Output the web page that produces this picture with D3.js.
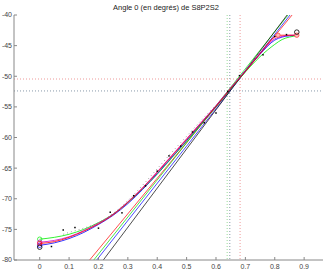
<!DOCTYPE html>
<html>
<head>
<meta charset="utf-8">
<script src="https://cdn.jsdelivr.net/npm/d3@7"></script>
<style>
body { margin: 0; background: white; }
text { font-family: "Liberation Sans", Arial, sans-serif; }
</style>
</head>
<body>
<div id="chart"></div>
<script>
var title = "Angle 0 (en degrés) de S8P2S2";
var xTicks = [0, 0.1, 0.2, 0.3, 0.4, 0.5, 0.6, 0.7, 0.8, 0.9];
var yTicks = [-40, -45, -50, -55, -60, -65, -70, -75, -80];

// fitted curves
var curveX  = [0, 0.05, 0.1, 0.15, 0.2, 0.25, 0.3, 0.35, 0.4, 0.45, 0.5, 0.55, 0.6, 0.65, 0.7, 0.75, 0.8, 0.825, 0.85, 0.875];
var redY    = [-77.3, -77.0, -76.3, -75.3, -74.1, -72.6, -70.6, -68.3, -65.7, -63.0, -60.3, -57.6, -54.9, -52.0, -49.2, -46.3, -43.6, -43.3, -43.3, -43.3];
var blueY   = [-77.6, -77.2, -76.5, -75.5, -74.2, -72.7, -70.8, -68.5, -65.9, -63.2, -60.5, -57.7, -54.9, -52.0, -49.1, -46.4, -44.1, -43.6, -43.4, -43.3];
var magY    = [-77.1, -76.8, -76.2, -75.2, -74.0, -72.5, -70.5, -68.2, -65.6, -62.9, -60.2, -57.5, -54.8, -51.9, -49.1, -46.3, -43.9, -43.5, -43.3, -43.3];
var greenY  = [-76.6, -76.3, -75.8, -75.0, -73.9, -72.5, -70.6, -68.4, -66.0, -63.3, -60.6, -57.8, -55.0, -52.1, -49.3, -46.8, -44.8, -44.0, -43.6, -43.4];

// dotted grey curve
var dotX = [0.08, 0.1, 0.15, 0.2, 0.25, 0.3, 0.35, 0.4, 0.45, 0.5, 0.55, 0.6];
var dotY = [-75.8, -75.5, -74.8, -73.9, -72.4, -70.3, -67.8, -65.1, -62.4, -59.8, -57.2, -54.7];

// tangent lines [x1, y1, x2, y2]
var tangents = [
    {color: "#ff0000", p: [0.170, -80, 0.859, -40]},
    {color: "#00dd00", p: [0.184, -80, 0.845, -40]},
    {color: "#0000ff", p: [0.194, -80, 0.852, -40]},
    {color: "#000000", p: [0.2165, -80, 0.842, -40]}
];

// measured points
var ptX = [0.04, 0.08, 0.12, 0.2, 0.24, 0.28, 0.32, 0.36, 0.4, 0.44, 0.48, 0.52, 0.56, 0.6, 0.64, 0.68, 0.76, 0.8, 0.84];
var ptY = [-77.8, -75.1, -74.7, -74.8, -72.2, -72.3, -69.5, -67.9, -65.5, -63.0, -61.4, -59.1, -57.6, -56.0, -52.5, -49.9, -46.5, -43.5, -43.2];

var vLines = [{x: 0.638, color: "#99dd99"}, {x: 0.647, color: "#8899aa"}, {x: 0.682, color: "#ee9999"}];
var hLines = [{y: -50.45, color: "#ee9999"}, {y: -52.4, color: "#8899aa"}];

var width = 327, height = 269;
var svg = d3.select("#chart").append("svg")
    .attr("width", width)
    .attr("height", height);

var x = d3.scaleLinear().domain([-0.0875, 0.9625]).range([14, 322.5]);
var y = d3.scaleLinear().domain([-80, -40]).range([260, 15]);

svg.append("clipPath").attr("id", "clip")
    .append("rect")
    .attr("x", 14).attr("y", 15)
    .attr("width", 308.5).attr("height", 245);

svg.append("text")
    .attr("x", 166)
    .attr("y", 10)
    .attr("text-anchor", "middle")
    .attr("font-size", "7.5px")
    .attr("fill", "#222")
    .text(title);

var plot = svg.append("g").attr("clip-path", "url(#clip)");

vLines.forEach(function(v) {
    plot.append("line")
        .attr("x1", x(v.x)).attr("x2", x(v.x))
        .attr("y1", 15).attr("y2", 260)
        .attr("stroke", v.color)
        .attr("stroke-dasharray", "1,2");
});
hLines.forEach(function(h) {
    plot.append("line")
        .attr("x1", 14).attr("x2", 323)
        .attr("y1", y(h.y)).attr("y2", y(h.y))
        .attr("stroke", h.color)
        .attr("stroke-dasharray", "1,2");
});

tangents.forEach(function(t) {
    plot.append("line")
        .attr("x1", x(t.p[0])).attr("y1", y(t.p[1]))
        .attr("x2", x(t.p[2])).attr("y2", y(t.p[3]))
        .attr("stroke", t.color)
        .attr("stroke-width", 0.7);
});

var line = d3.line()
    .x(function(d) { return x(d[0]); })
    .y(function(d) { return y(d[1]); })
    .curve(d3.curveMonotoneX);

var fits = [
    {color: "#00ee00", ys: greenY},
    {color: "#0000ff", ys: blueY},
    {color: "#cc00cc", ys: magY},
    {color: "#ff0000", ys: redY}
];
fits.forEach(function(f) {
    var pts = curveX.map(function(d, i) { return [d, f.ys[i]]; });
    plot.append("path")
        .attr("d", line(pts))
        .attr("fill", "none")
        .attr("stroke", f.color)
        .attr("stroke-width", 0.8);
    plot.append("circle")
        .attr("cx", x(0)).attr("cy", y(f.ys[0]))
        .attr("r", 2.2)
        .attr("fill", "none")
        .attr("stroke", f.color)
        .attr("stroke-width", 0.7);
});

plot.append("path")
    .attr("d", line(dotX.map(function(d, i) { return [d, dotY[i]]; })))
    .attr("fill", "none")
    .attr("stroke", "#777")
    .attr("stroke-width", 0.7)
    .attr("stroke-dasharray", "1,3");

ptX.forEach(function(d, i) {
    plot.append("rect")
        .attr("x", x(d) - 0.75).attr("y", y(ptY[i]) - 0.75)
        .attr("width", 1.5).attr("height", 1.5)
        .attr("fill", "#000");
});

// end markers
[[0.811, -43.3], [0.875, -43.3]].forEach(function(p) {
    plot.append("circle")
        .attr("cx", x(p[0])).attr("cy", y(p[1]))
        .attr("r", 2.2)
        .attr("fill", "#ffbbbb")
        .attr("stroke", "#ff3333")
        .attr("stroke-width", 0.7);
});
[[0, -77.9], [0.875, -42.8]].forEach(function(p) {
    plot.append("circle")
        .attr("cx", x(p[0])).attr("cy", y(p[1]))
        .attr("r", 2.3)
        .attr("fill", "none")
        .attr("stroke", "#000")
        .attr("stroke-width", 0.8);
});

// axes
var axisColor = "#888";
svg.append("line")
    .attr("x1", 14).attr("x2", 14).attr("y1", 15).attr("y2", 260)
    .attr("stroke", axisColor);
svg.append("line")
    .attr("x1", 14).attr("x2", 323).attr("y1", 260).attr("y2", 260)
    .attr("stroke", axisColor);

yTicks.forEach(function(t) {
    svg.append("line")
        .attr("x1", 14).attr("x2", 17)
        .attr("y1", y(t)).attr("y2", y(t))
        .attr("stroke", axisColor);
    svg.append("text")
        .attr("x", 12)
        .attr("y", y(t))
        .attr("dy", "0.35em")
        .attr("text-anchor", "end")
        .attr("font-size", "7px")
        .attr("fill", "#444")
        .text(t);
});
xTicks.forEach(function(t) {
    svg.append("line")
        .attr("x1", x(t)).attr("x2", x(t))
        .attr("y1", 260).attr("y2", 257)
        .attr("stroke", axisColor);
    svg.append("text")
        .attr("x", x(t))
        .attr("y", 268.5)
        .attr("text-anchor", "middle")
        .attr("font-size", "7px")
        .attr("fill", "#444")
        .text(t);
});
</script>
</body>
</html>
